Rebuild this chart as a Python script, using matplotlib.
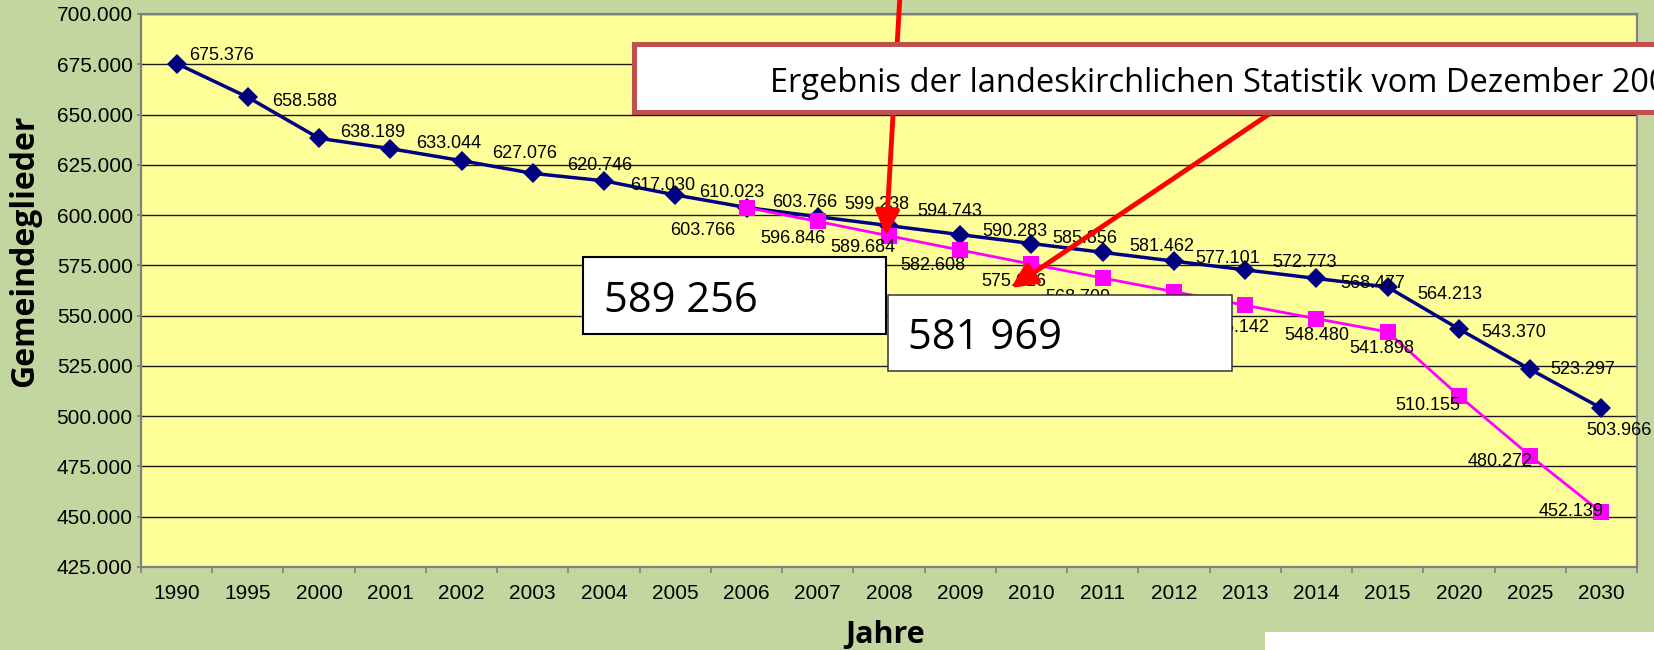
import numpy as np
import matplotlib.pyplot as plt
from matplotlib.patches import Rectangle, FancyArrowPatch
from matplotlib.ticker import FuncFormatter

# Daten: Gemeindeglieder (Ist / Prognose)
jahre = ['1990', '1995', '2000', '2001', '2002', '2003', '2004', '2005', '2006',
         '2007', '2008', '2009', '2010', '2011', '2012', '2013', '2014', '2015',
         '2020', '2025', '2030']
ist = [675376, 658588, 638189, 633044, 627076, 620746, 617030, 610023, 603766,
       599238, 594743, 590283, 585856, 581462, 577101, 572773, 568477, 564213,
       543370, 523297, 503966]
prognose_ab = 8  # ab 2006
prognose = [603766, 596846, 589684, 582608, 575616, 568709, 561915, 555142,
            548480, 541898, 510155, 480272, 452139]
box_werte = ['589 256', '581 969']
hinweis = 'Ergebnis der landeskirchlichen Statistik vom Dezember 2008'

# Lage der Datenbeschriftungen (Pixel, dx / dy nach unten)
off_ist = [(45, -8), (57, 4), (54, -6), (58, -5), (63, -7), (67, -8), (59, 5),
           (56, -2), (58, -5), (59, -12), (61, -14), (55, -3), (53, -5), (59, -6),
           (54, -3), (59, -7), (56, 5), (62, 7), (55, 4), (53, 0), (18, 22)]
off_prog = [(-44, 23), (-25, 17), (-26, 12), (-27, 15), (-18, 17), (-25, 19),
            (-25, 15), (-8, 22), (0, 17), (-6, 17), (-31, 10), (-30, 6), (-30, -1)]

W, H = 1654, 650
fig = plt.figure(figsize=(W / 100, H / 100), dpi=100, facecolor='#c4d69f')
ax = fig.add_axes([141 / W, 1 - 567 / H, (1637 - 141) / W, (567 - 14) / H])
ax.set_facecolor('#ffff99')

x = np.arange(len(jahre))
xp = np.arange(prognose_ab, prognose_ab + len(prognose))

ax.plot(x, ist, color='#000080', lw=2.5, marker='D', ms=10, mew=0, zorder=3)
ax.plot(xp, prognose, color='#ff00ff', lw=2.0, marker='s', ms=11, mew=0, zorder=4)

def de(v):
    return f'{v:,.0f}'.replace(',', '.')

lbl = dict(fontsize=13, family='Liberation Sans', ha='center', va='center',
           textcoords='offset pixels', zorder=5)
for xi, v, (dx, dy) in zip(x, ist, off_ist):
    ax.annotate(de(v), (xi, v), xytext=(dx, -dy), **lbl)
for xi, v, (dx, dy) in zip(xp, prognose, off_prog):
    ax.annotate(de(v), (xi, v), xytext=(dx, -dy), **lbl)

ax.set_xlim(-0.5, len(jahre) - 0.5)
ax.set_ylim(425000, 700000)
ax.set_yticks(range(425000, 700001, 25000))
ax.yaxis.set_major_formatter(FuncFormatter(lambda v, p: de(v)))
ax.set_xticks(x)
ax.set_xticklabels(jahre)
ax.set_xticks(np.arange(-0.5, len(jahre)), minor=True)
ax.tick_params(axis='x', which='major', length=0, pad=12)
ax.tick_params(axis='x', which='minor', length=4, color='#808080', width=1.2)
ax.tick_params(axis='y', length=3, pad=3, color='#808080', width=1.2)
for t in ax.get_xticklabels() + ax.get_yticklabels():
    t.set_fontsize(15)
    t.set_family('Liberation Sans')

ax.yaxis.grid(True, color='#1a1a1a', lw=1)
ax.set_axisbelow(True)
for s in ax.spines.values():
    s.set_color('#808080')
    s.set_linewidth(1.6)

# Overlay in Pixelkoordinaten
ov = fig.add_axes([0, 0, 1, 1], zorder=10)
ov.set_xlim(0, W)
ov.set_ylim(H, 0)
ov.axis('off')
ov.patch.set_alpha(0)

ov.text(25, 251, 'Gemeindeglieder', rotation=90, ha='center', va='center',
        fontsize=23, fontweight='bold', family='Open Sans')
ov.text(885, 643, 'Jahre', ha='center', va='baseline',
        fontsize=22, fontweight='bold', family='Open Sans')

pfeil = dict(arrowstyle='-|>,head_length=0.75,head_width=0.36', mutation_scale=20,
             lw=3.5, color='#ff0000', shrinkA=0, shrinkB=0)
ov.add_patch(FancyArrowPatch((900, -5), (886, 236), **pfeil))
ov.add_patch(FancyArrowPatch((1290, 100), (1011, 288), **pfeil))

ov.add_patch(Rectangle((634, 44), 1300, 68, fc='white', ec='#c0504d', lw=3.6))
ov.text(770, 92, hinweis, fontsize=23.5, family='Open Sans', va='baseline')

ov.add_patch(Rectangle((583, 257), 303, 77, fc='white', ec='black', lw=1.5))
ov.text(604, 312, box_werte[0], fontsize=30, family='Open Sans', va='baseline')
ov.add_patch(Rectangle((888, 295), 344, 76, fc='white', ec='#333333', lw=1.1))
ov.text(908, 349, box_werte[1], fontsize=30, family='Open Sans', va='baseline')

ov.add_patch(Rectangle((1265, 632), 500, 40, fc='white', ec='none'))

fig.savefig('out.png', dpi=100, facecolor=fig.get_facecolor())
